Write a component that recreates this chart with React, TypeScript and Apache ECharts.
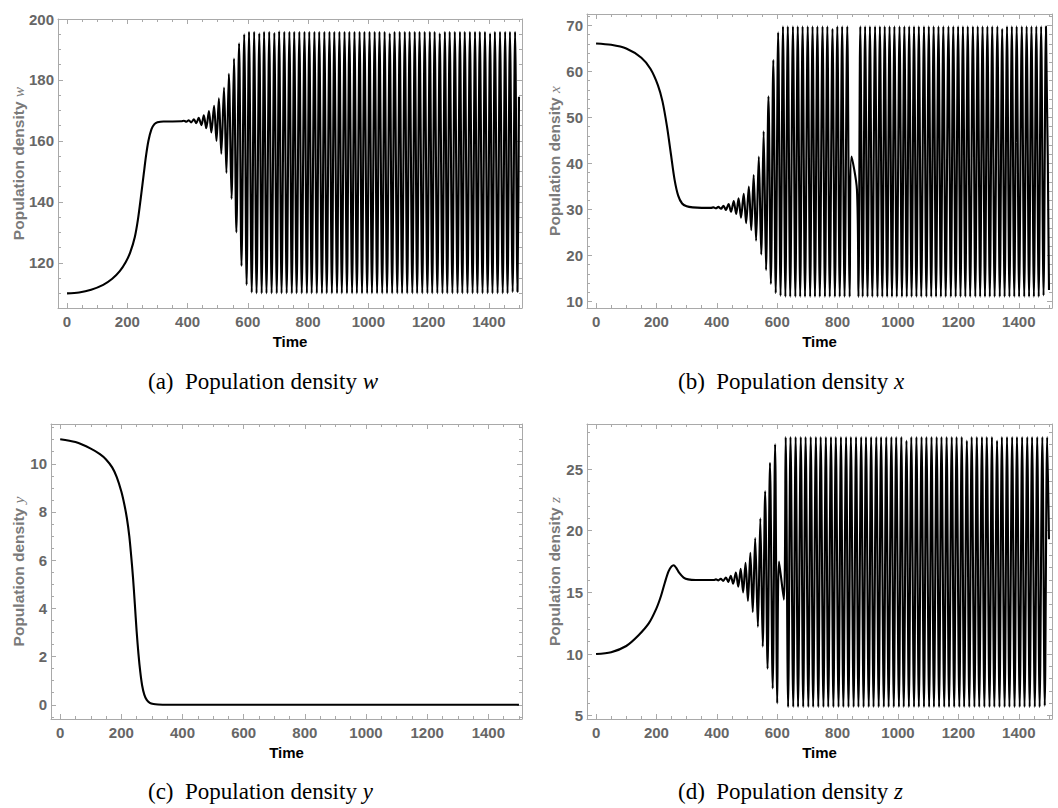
import React, { useEffect, useRef } from "react";
import * as echarts from "echarts";

// ---------- tick values ----------
const timeMajor = [0, 200, 400, 600, 800, 1000, 1200, 1400];
const timeMinor = [50, 100, 150, 250, 300, 350, 450, 500, 550, 650, 700, 750, 850, 900, 950, 1050, 1100, 1150, 1250, 1300, 1350, 1450, 1500];

const wMajor = [120, 140, 160, 180, 200];
const wMinor = [110, 115, 125, 130, 135, 145, 150, 155, 165, 170, 175, 185, 190, 195];
const xMajor = [10, 20, 30, 40, 50, 60, 70];
const xMinor = [12, 14, 16, 18, 22, 24, 26, 28, 32, 34, 36, 38, 42, 44, 46, 48, 52, 54, 56, 58, 62, 64, 66, 68, 72];
const yMajor = [0, 2, 4, 6, 8, 10];
const yMinor = [-0.5, 0.5, 1, 1.5, 2.5, 3, 3.5, 4.5, 5, 5.5, 6.5, 7, 7.5, 8.5, 9, 9.5, 10.5, 11, 11.5];
const zMajor = [5, 10, 15, 20, 25];
const zMinor = [6, 7, 8, 9, 11, 12, 13, 14, 16, 17, 18, 19, 21, 22, 23, 24, 26, 27, 28];

// ---------- data: population density w ----------
const wTransient = [
  [0, 110], [40, 110.3], [80, 111.2], [120, 112.8], [150, 114.8], [175, 117.3], [195, 120.3], [210, 123.5],
  [225, 128.5], [235, 134], [245, 141.5], [255, 149.5], [262, 155], [270, 160], [280, 163.8], [290, 165.5],
  [300, 166.1], [320, 166.4], [350, 166.4], [380, 166.45],
];
const wCycles = [
  [388, 166.6], [396, 166.3], [404, 166.8], [412, 166.1], [421, 167.1], [429, 165.8], [437, 167.6], [446, 165.2],
  [454, 168.4], [462, 164.2], [471, 169.8], [479, 162.8], [488, 171.5], [496, 160.0], [504, 174.0], [512, 155.8],
  [521, 177.5], [529, 149.5], [537, 182.0], [546, 141.0], [554, 187.0], [562, 130.0], [571, 192.0], [579, 119.0],
  [588, 195.0], [596, 112.8], [604, 195.8], [613, 110.3],
  [621, 195.8], [629, 110.0], [638, 195.3], [646, 110.0], [654, 195.8], [662, 110.0], [671, 195.8], [679, 110.0],
  [688, 195.5], [696, 110.0], [704, 196.0], [712, 110.0], [721, 195.8], [729, 110.0], [738, 195.8], [746, 110.0],
  [754, 195.8], [762, 110.0], [771, 195.8], [779, 110.0], [788, 195.8], [796, 110.0], [804, 195.8], [812, 110.0],
  [821, 195.8], [829, 110.0], [837, 195.8], [846, 110.0], [854, 195.8], [862, 110.0], [871, 195.8], [879, 110.0],
  [887, 195.8], [896, 110.0], [904, 195.8], [912, 110.0], [921, 195.8], [929, 110.0], [937, 195.8], [946, 110.0],
  [954, 195.8], [962, 110.0], [971, 195.8], [979, 110.0], [987, 195.8], [996, 110.0], [1004, 195.8], [1012, 110.0],
  [1021, 195.8], [1029, 110.0], [1037, 195.8], [1046, 110.0], [1054, 195.8], [1062, 110.0], [1071, 195.3], [1079, 110.0],
  [1087, 195.8], [1096, 110.0], [1104, 195.8], [1112, 110.0], [1121, 195.8], [1129, 110.0], [1137, 195.8], [1146, 110.0],
  [1154, 195.8], [1162, 110.0], [1170, 195.8], [1179, 110.0], [1187, 195.8], [1196, 110.0], [1204, 195.8], [1212, 110.0],
  [1220, 195.8], [1229, 110.0], [1237, 195.3], [1246, 110.0], [1254, 195.8], [1262, 110.0], [1270, 195.8], [1279, 110.0],
  [1287, 195.8], [1296, 110.0], [1304, 195.8], [1312, 110.0], [1320, 195.8], [1329, 110.0], [1337, 195.8], [1346, 110.0],
  [1354, 195.8], [1362, 110.0], [1370, 195.8], [1379, 110.0], [1387, 195.8], [1396, 110.0], [1404, 195.3], [1412, 110.0],
  [1420, 195.8], [1429, 110.0], [1437, 195.8], [1446, 110.0], [1454, 195.8], [1462, 110.0], [1470, 195.8], [1479, 110.4],
  [1487, 195.8], [1495, 110.5], [1500, 174.5],
];

// ---------- data: population density x ----------
const xTransient = [
  [0, 66.1], [50, 65.8], [100, 65.0], [150, 63.0], [180, 60.6], [205, 57.0], [220, 53.5], [235, 48.0],
  [248, 42.0], [260, 36.5], [272, 33.0], [285, 31.3], [300, 30.7], [320, 30.45], [350, 30.35], [380, 30.35],
];
const xCycles = [
  [389, 30.45], [397, 30.25], [405, 30.55], [414, 30.15], [422, 30.8], [430, 29.9], [439, 31.2], [447, 29.5],
  [456, 31.8], [464, 29.0], [472, 32.4], [480, 28.2], [489, 33.4], [497, 27.0], [506, 35.0], [514, 25.5],
  [522, 37.5], [530, 23.2], [539, 41.5], [547, 20.2], [555, 47.0], [563, 16.8], [571, 54.6], [579, 13.8],
  [587, 62.5], [595, 11.8], [603, 68.5], [611, 11.2],
  [619, 69.8], [627, 11.0], [635, 69.8], [643, 11.0], [652, 69.8], [660, 11.0], [668, 69.8], [676, 11.0],
  [684, 69.8], [692, 11.0], [701, 69.8], [709, 11.0], [717, 69.8], [725, 11.0], [733, 69.8], [741, 11.0],
  [750, 69.8], [758, 11.0], [766, 69.8], [774, 11.0], [783, 69.3], [791, 11.0], [799, 69.8], [807, 11.0],
  [815, 69.8], [823, 11.0], [832, 69.8], [840, 11.0], [846, 41.5], [864, 34.3], [869, 11.0],
  [875, 69.8], [883, 11.0], [891, 69.8], [899, 11.0], [907, 69.8], [915, 11.0], [924, 69.8], [932, 11.0],
  [940, 69.8], [948, 11.0], [956, 69.8], [964, 11.0], [972, 69.8], [980, 11.0], [988, 69.8], [996, 11.0],
  [1005, 69.8], [1013, 11.0], [1021, 69.8], [1029, 11.0], [1037, 69.8], [1045, 11.0], [1053, 69.8], [1061, 11.0],
  [1069, 69.8], [1077, 11.0], [1086, 69.8], [1094, 11.0], [1102, 69.8], [1110, 11.0], [1118, 69.8], [1126, 11.0],
  [1134, 69.8], [1142, 11.0], [1150, 69.8], [1158, 11.0], [1167, 69.8], [1175, 11.0], [1183, 69.8], [1191, 11.0],
  [1199, 69.8], [1207, 11.0], [1215, 69.8], [1223, 11.0], [1231, 69.8], [1239, 11.0], [1248, 69.8], [1256, 11.0],
  [1264, 69.8], [1272, 11.0], [1280, 69.8], [1288, 11.0], [1296, 69.8], [1304, 11.0], [1312, 69.8], [1320, 11.0],
  [1329, 69.8], [1337, 11.0], [1345, 69.3], [1353, 11.0], [1361, 69.8], [1369, 11.0], [1377, 69.8], [1385, 11.0],
  [1393, 69.8], [1401, 11.0], [1410, 69.8], [1418, 11.0], [1426, 69.8], [1434, 11.0], [1442, 69.8], [1450, 11.0],
  [1458, 69.8], [1466, 11.0], [1474, 69.8], [1482, 11.3], [1490, 69.8], [1500, 12.5],
];

// ---------- data: population density y ----------
const yCurve = [
  [0, 11.02], [50, 10.9], [100, 10.63], [130, 10.4], [150, 10.18], [170, 9.85], [185, 9.45], [200, 8.85],
  [210, 8.3], [218, 7.75], [226, 7.0], [232, 6.2], [238, 5.3], [244, 4.2], [250, 3.05], [256, 2.1],
  [262, 1.35], [268, 0.8], [275, 0.42], [283, 0.2], [293, 0.08], [305, 0.03], [320, 0.01], [350, 0], [1500, 0],
];

// ---------- data: population density z ----------
const zTransient = [
  [0, 10.0], [50, 10.15], [100, 10.65], [140, 11.5], [175, 12.5], [200, 13.7], [215, 14.7], [228, 15.8],
  [240, 16.7], [250, 17.1], [257, 17.2], [265, 17.0], [275, 16.6], [290, 16.2], [305, 16.05], [330, 16.0],
  [360, 16.0], [390, 16.0],
];
const zCycles = [
  [397, 16.05], [405, 15.97], [413, 16.1], [421, 15.93], [430, 16.2], [438, 15.85], [446, 16.35], [454, 15.7],
  [463, 16.6], [471, 15.45], [479, 16.9], [487, 15.0], [495, 17.4], [503, 14.3], [511, 18.2], [519, 13.4],
  [527, 19.4], [536, 12.2], [544, 21.0], [552, 10.6], [560, 23.2], [568, 8.8], [576, 25.5], [585, 7.2],
  [593, 27.0], [600, 6.0], [606, 17.5], [622, 14.4],
  [628, 27.6], [636, 5.7], [644, 27.6], [653, 5.7], [661, 27.6], [669, 5.7], [678, 27.6], [686, 5.7],
  [694, 27.6], [703, 5.7], [711, 27.6], [719, 5.7], [728, 27.6], [736, 5.7], [744, 27.6], [753, 5.7],
  [761, 27.6], [769, 5.7], [778, 27.6], [786, 5.7], [794, 27.6], [803, 5.7], [811, 27.6], [819, 5.7],
  [828, 27.6], [836, 5.7], [844, 27.6], [853, 5.7], [861, 27.6], [869, 5.7], [878, 27.6], [886, 5.7],
  [894, 27.6], [903, 5.7], [911, 27.6], [919, 5.7], [928, 27.6], [936, 5.7], [944, 27.6], [953, 5.7],
  [961, 27.6], [969, 5.7], [978, 27.6], [986, 5.7], [994, 27.6], [1003, 5.7], [1011, 27.6], [1019, 5.7],
  [1028, 27.3], [1036, 5.7], [1044, 27.6], [1053, 5.7], [1061, 27.6], [1069, 5.7], [1078, 27.6], [1086, 5.7],
  [1094, 27.6], [1103, 5.7], [1111, 27.6], [1119, 5.7], [1128, 27.6], [1136, 5.7], [1144, 27.6], [1153, 5.7],
  [1161, 27.6], [1169, 5.7], [1178, 27.6], [1186, 5.7], [1194, 27.6], [1203, 5.7], [1211, 27.6], [1219, 5.7],
  [1228, 27.3], [1236, 5.7], [1244, 27.6], [1253, 5.7], [1261, 27.6], [1269, 5.7], [1278, 27.6], [1286, 5.7],
  [1294, 27.6], [1303, 5.7], [1311, 27.6], [1319, 5.7], [1328, 27.3], [1336, 5.7], [1344, 27.6], [1353, 5.7],
  [1361, 27.6], [1369, 5.7], [1378, 27.6], [1386, 5.7], [1394, 27.6], [1403, 5.7], [1411, 27.6], [1419, 5.7],
  [1428, 27.6], [1436, 5.7], [1444, 27.6], [1453, 5.7], [1461, 27.6], [1469, 5.7], [1478, 27.6], [1486, 5.8],
  [1494, 27.6], [1500, 19.3],
];

// ---------- layout ----------
const FRAME = "#a9a9a9";
const TICKLABEL = "#666666";
const NAMECOLOR = "#7a7a7a";
const SANS = "'Liberation Sans', Arial, sans-serif";
const SERIF = "'Liberation Serif', 'Times New Roman', serif";

const panels = [
  { grid: { left: 58, top: 19, width: 464, height: 289 }, yRange: [105.2, 200], yMajor: wMajor, yMinor: wMinor,
    data: [...wTransient, ...wCycles], varName: "w", letter: "(a)", nameX: 18, captionX: 148, captionY: 381, timeY: 341 },
  { grid: { left: 587, top: 14, width: 465, height: 294 }, yRange: [8.57, 72.5], yMajor: xMajor, yMinor: xMinor,
    data: [...xTransient, ...xCycles], varName: "x", letter: "(b)", nameX: 554, captionX: 678, captionY: 381, timeY: 341 },
  { grid: { left: 51, top: 424, width: 471, height: 295 }, yRange: [-0.59, 11.65], yMajor: yMajor, yMinor: yMinor,
    data: yCurve, varName: "y", letter: "(c)", nameX: 18, captionX: 148, captionY: 791, timeY: 752 },
  { grid: { left: 587, top: 424, width: 465, height: 295 }, yRange: [4.73, 28.65], yMajor: zMajor, yMinor: zMinor,
    data: [...zTransient, ...zCycles], varName: "z", letter: "(d)", nameX: 554, captionX: 678, captionY: 791, timeY: 752 },
];

function makeAxis(gridIndex: number, position: string, min: number, max: number, ticks: number[], major: boolean, labels: boolean, isY: boolean) {
  return {
    gridIndex,
    type: "value",
    min,
    max,
    position,
    axisLine: { show: major, onZero: false, lineStyle: { color: FRAME, width: 1 } },
    axisTick: { show: true, inside: true, length: major ? 5 : 3, customValues: ticks, lineStyle: { color: FRAME, width: 1 } },
    axisLabel: labels
      ? {
          show: true,
          customValues: ticks,
          margin: isY ? 4 : 6,
          color: TICKLABEL,
          fontSize: 15,
          fontWeight: "bold",
          fontFamily: SANS,
          formatter: (v: number) => String(v),
        }
      : { show: false },
    splitLine: { show: false },
    minorTick: { show: false },
  };
}

export default function App() {
  const ref = useRef<HTMLDivElement>(null);
  useEffect(() => {
    if (!ref.current) return;
    const chart = echarts.init(ref.current, null, { renderer: "svg" });
    const grids: any[] = [];
    const xAxes: any[] = [];
    const yAxes: any[] = [];
    const series: any[] = [];
    const graphics: any[] = [];
    panels.forEach((p, i) => {
      grids.push({ ...p.grid, containLabel: false });
      xAxes.push(makeAxis(i, "bottom", -30, 1510, timeMajor, true, true, false));
      xAxes.push(makeAxis(i, "bottom", -30, 1510, timeMinor, false, false, false));
      xAxes.push(makeAxis(i, "top", -30, 1510, timeMajor, true, false, false));
      xAxes.push(makeAxis(i, "top", -30, 1510, timeMinor, false, false, false));
      yAxes.push(makeAxis(i, "left", p.yRange[0], p.yRange[1], p.yMajor, true, true, true));
      yAxes.push(makeAxis(i, "left", p.yRange[0], p.yRange[1], p.yMinor, false, false, true));
      yAxes.push(makeAxis(i, "right", p.yRange[0], p.yRange[1], p.yMajor, true, false, true));
      yAxes.push(makeAxis(i, "right", p.yRange[0], p.yRange[1], p.yMinor, false, false, true));
      series.push({
        type: "line",
        xAxisIndex: i * 4,
        yAxisIndex: i * 4,
        data: p.data,
        showSymbol: false,
        symbol: "none",
        smooth: 0.3,
        clip: true,
        lineStyle: { color: "#000", width: 2.1 },
      });
      const cy = p.grid.top + p.grid.height / 2;
      const cx = p.grid.left + p.grid.width / 2;
      graphics.push({
        type: "text",
        x: p.nameX,
        y: cy,
        rotation: Math.PI / 2,
        style: {
          text: "{a|Population density }{b|" + p.varName + "}",
          align: "center",
          verticalAlign: "middle",
          textAlign: "center",
          textVerticalAlign: "middle",
          rich: {
            a: { fontFamily: SANS, fontWeight: "bold", fontSize: 15.5, fill: NAMECOLOR, color: NAMECOLOR },
            b: { fontFamily: SERIF, fontStyle: "italic", fontSize: 15.5, fill: NAMECOLOR, color: NAMECOLOR },
          },
        },
      });
      graphics.push({
        type: "text",
        x: cx,
        y: p.timeY,
        style: {
          text: "Time",
          align: "center",
          verticalAlign: "middle",
          textAlign: "center",
          textVerticalAlign: "middle",
          fontFamily: SANS,
          fontWeight: "bold",
          fontSize: 15,
          fill: "#000",
        },
      });
      graphics.push({
        type: "text",
        x: p.captionX,
        y: p.captionY,
        style: {
          text: p.letter + "  Population density {i|" + p.varName + "}",
          align: "left",
          verticalAlign: "middle",
          textAlign: "left",
          textVerticalAlign: "middle",
          fontFamily: SERIF,
          fontSize: 23,
          fill: "#000",
          rich: { i: { fontFamily: SERIF, fontStyle: "italic", fontSize: 23, fill: "#000", color: "#000" } },
        },
      });
    });
    chart.setOption({
      animation: false,
      backgroundColor: "#fff",
      grid: grids,
      xAxis: xAxes,
      yAxis: yAxes,
      series,
      graphic: { elements: graphics },
    });
    return () => chart.dispose();
  }, []);
  return <div ref={ref} style={{ position: "fixed", left: 0, top: 0, width: 1058, height: 808, background: "#fff" }} />;
}
